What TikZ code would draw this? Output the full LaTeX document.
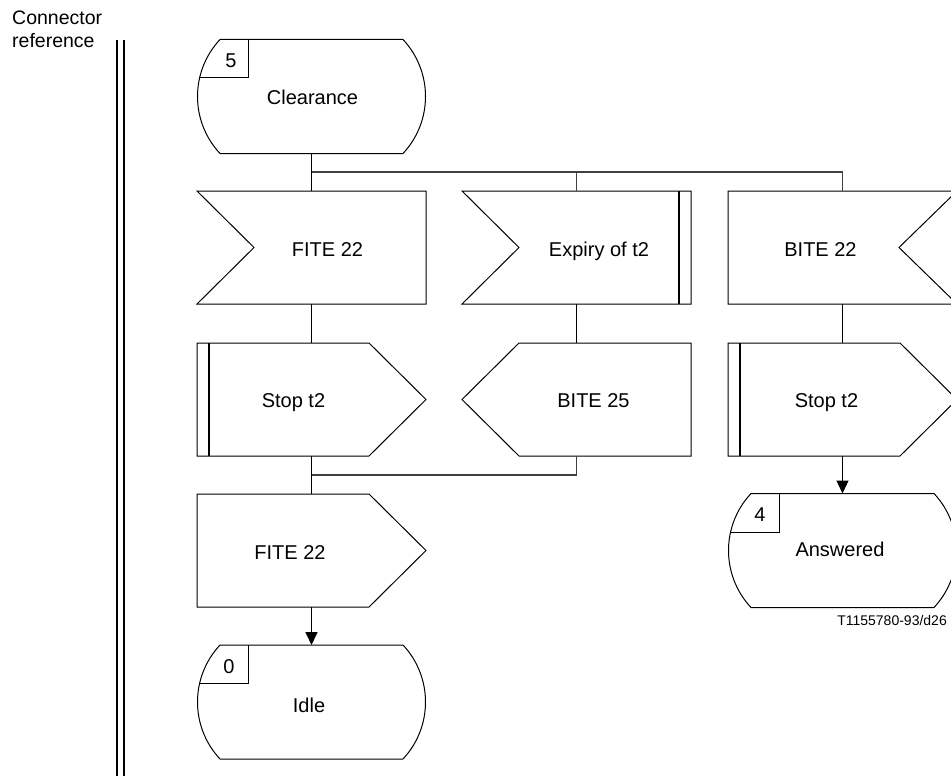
\documentclass[tikz,border=0pt]{standalone}
\usepackage{fontspec}
\setmainfont{Liberation Sans}
\usetikzlibrary{calc,arrows.meta}
\newcommand\stateoutline[1]{%
  \draw[outline] ($(#1.north west)+(22.5,0)$) -- ($(#1.north east)+(-22.5,0)$)
    .. controls ($(#1.north east)+(7.5,32.1)$) and ($(#1.south east)+(7.5,-32.1)$) .. ($(#1.south east)+(-22.5,0)$)
    -- ($(#1.south west)+(22.5,0)$)
    .. controls ($(#1.south west)+(-7.5,-32.1)$) and ($(#1.north west)+(-7.5,32.1)$) .. cycle;
  \draw[outline] ($(#1.north west)+(51,0)$) -- ($(#1.north west)+(51,38.5)$) -- ($(#1.north west)+(2.1,38.5)$);}
\newcommand\inleft[1]{\draw[outline] (#1.north west) -- (#1.north east) -- (#1.south east) -- (#1.south west) -- ($(#1.west)+(57,0)$) -- cycle;}
\newcommand\inright[1]{\draw[outline] (#1.north west) -- (#1.north east) -- ($(#1.east)+(-58,0)$) -- (#1.south east) -- (#1.south west) -- cycle;}
\newcommand\outright[1]{\draw[outline] (#1.north west) -- ($(#1.north east)+(-57,0)$) -- (#1.east) -- ($(#1.south east)+(-57,0)$) -- (#1.south west) -- cycle;}
\newcommand\outleft[1]{\draw[outline] ($(#1.north west)+(57,0)$) -- (#1.north east) -- (#1.south east) -- ($(#1.south west)+(57,0)$) -- (#1.west) -- cycle;}
\begin{document}
\begin{tikzpicture}[x=1pt,y=-1pt,
  box/.style={draw=none,minimum width=229pt,minimum height=113pt,inner sep=0pt,outer sep=0pt},
  stbox/.style={box,minimum width=228pt,minimum height=114pt},
  txt/.style={font=\fontsize{20}{24}\selectfont,inner sep=0pt,text height=14.3pt,text depth=0pt},
  outline/.style={draw=black,line width=1pt,line join=miter},
  bar/.style={line width=2pt},
  stem/.style={line width=1.7pt},
  thin/.style={line width=1.1pt},
  hline/.style={line width=1.1pt,draw=black!75},
  arr/.style={-{Triangle[length=13pt,width=12pt]}},
]
\useasboundingbox (0,0) rectangle (951,776);
\clip (0,0) rectangle (951,776);

% left reference column
\node[anchor=base west,inner sep=0pt,font=\fontsize{19.5}{23}\selectfont] (conn) at (12,25) {Connector};
\node[anchor=base west,inner sep=0pt,font=\fontsize{19.5}{23}\selectfont] (refr) at (12,48) {reference};
\draw[line width=1.5pt] (117,40) -- (117,776);
\draw[line width=1.5pt] (124,40) -- (124,776);

% shape frames
\node[stbox] (clr) at (311.5,96.5) {};
\node[box] (fin) at (311.5,247.5) {};
\node[box] (exp) at (576.5,247.5) {};
\node[box] (bin) at (842.5,247.5) {};
\node[box] (stl) at (311.5,399.5) {};
\node[box] (b25) at (576.5,399.5) {};
\node[box] (str) at (842.5,399.5) {};
\node[box] (fout) at (311.5,550.5) {};
\node[stbox] (idle) at (311.5,702) {};
\node[stbox] (ans) at (842.5,550.5) {};

\stateoutline{clr}
\stateoutline{idle}
\stateoutline{ans}
\inleft{fin}
\inleft{exp}
\inright{bin}
\outright{stl}
\outleft{b25}
\outright{str}
\outright{fout}
\draw[bar] ($(exp.north east)+(-12,0)$) -- ($(exp.south east)+(-12,0)$);
\draw[bar] ($(stl.north west)+(12,0)$) -- ($(stl.south west)+(12,0)$);
\draw[bar] ($(str.north west)+(12,0)$) -- ($(str.south west)+(12,0)$);

% texts
\node[txt] (clr-t) at (312.5,97.5) {Clearance};
\node[txt] (clr-n) at (231,60) {5};
\node[txt] (fin-t) at (327.5,249) {FITE 22};
\node[txt] (exp-t) at (599,249) {Expiry of t2};
\node[txt] (bin-t) at (820.5,249) {BITE 22};
\node[txt] (stl-t) at (293.5,400) {Stop t2};
\node[txt] (b25-t) at (593.5,400) {BITE 25};
\node[txt] (str-t) at (826.5,400) {Stop t2};
\node[txt] (fout-t) at (290,552) {FITE 22};
\node[txt] (idle-t) at (309,705) {Idle};
\node[txt] (idle-n) at (229,666) {0};
\node[txt] (ans-t) at (840,549) {Answered};
\node[txt] (ans-n) at (760,514) {4};
\node[anchor=east,inner sep=0pt,font=\fontsize{14}{16}\selectfont,text height=10pt,text depth=0pt] (code) at (947,620) {T1155780-93/d26};

% connectors
\coordinate (j1) at (311.5,172);
\coordinate (j2) at (311.5,475);
\draw[stem] (clr.south) -- (fin.north);
\draw[hline] (j1) -| (exp.north);
\draw[hline] (j1) -| (bin.north);
\draw[stem] (fin.south) -- (stl.north);
\draw[thin] (exp.south) -- (b25.north);
\draw[thin] (bin.south) -- (str.north);
\draw[stem] (stl.south) -- (fout.north);
\draw[hline] (b25.south) |- (j2);
\draw[stem,arr] (fout.south) -- (idle.north);
\draw[thin,arr] (str.south) -- (ans.north);
\end{tikzpicture}
\end{document}
